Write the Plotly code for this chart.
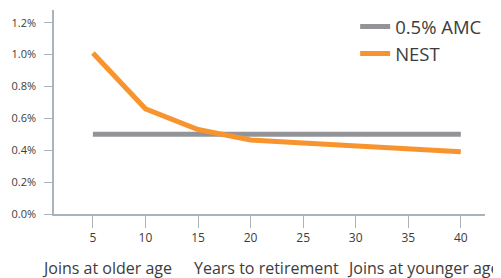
import plotly.graph_objects as go

years = [5, 10, 15, 20, 25, 30, 35, 40]
nest = [1.01, 0.66, 0.53, 0.465, 0.445, 0.425, 0.405, 0.39]
amc = [0.5] * len(years)
y_ticks = [0.0, 0.2, 0.4, 0.6, 0.8, 1.0, 1.2]
y_tick_text = ["0.0%", "0.2%", "0.4%", "0.6%", "0.8%", "1.0%", "1.2%"]
bottom_labels = ["Joins at older age", "Years to retirement", "Joins at younger age"]

GRAY = "#929497"
ORANGE = "#F7942E"
AXIS = "#a9b3bb"
TEXT = "#3c3c3c"
FONT = "Open Sans"

W, H = 493, 270
L, R, T, B = 46, 16, 2, 64
PW, PH = W - L - R, H - T - B

fig = go.Figure()
fig.add_trace(go.Scatter(x=years, y=amc, mode="lines", name="0.5% AMC",
                         line=dict(color=GRAY, width=5)))
fig.add_trace(go.Scatter(x=years, y=nest, mode="lines", name="NEST",
                         line=dict(color=ORANGE, width=5)))

fig.update_layout(
    width=W, height=H,
    margin=dict(l=L, r=R, t=T, b=B, autoexpand=False),
    paper_bgcolor="white", plot_bgcolor="white",
    font=dict(family=FONT, color=TEXT),
    showlegend=True,
    legend=dict(x=1.005, y=1.01, xanchor="right", yanchor="top",
                font=dict(size=18.5, color=TEXT, family=FONT),
                bgcolor="rgba(0,0,0,0)", itemwidth=30, tracegroupgap=0),
    xaxis=dict(range=[1.3, 42.3], tickvals=years, ticks="outside", ticklen=12,
               tickcolor=AXIS, showline=True, linecolor=AXIS, linewidth=1.5,
               showgrid=False, zeroline=False,
               tickfont=dict(size=12, color=TEXT, family=FONT)),
    yaxis=dict(range=[0, 1.28], tickvals=y_ticks, ticktext=y_tick_text,
               ticks="outside", ticklen=8, tickcolor=AXIS, showline=True,
               linecolor=AXIS, linewidth=1.5, showgrid=False, zeroline=False,
               ticklabelstandoff=6,
               tickfont=dict(size=11, color=TEXT, family=FONT)),
)

# page-pixel centres of the three captions (page is offset 8px by body margin)
positions = [107, 266, 423]
for label, px in zip(bottom_labels, positions):
    fig.add_annotation(text=label, xref="paper", yref="paper",
                       x=(px - 8 - L) / PW, y=-(268 - 8 - (T + PH)) / PH,
                       xanchor="center", yanchor="middle", showarrow=False,
                       font=dict(size=16, color=TEXT, family=FONT))

fig.write_html("out.html")
